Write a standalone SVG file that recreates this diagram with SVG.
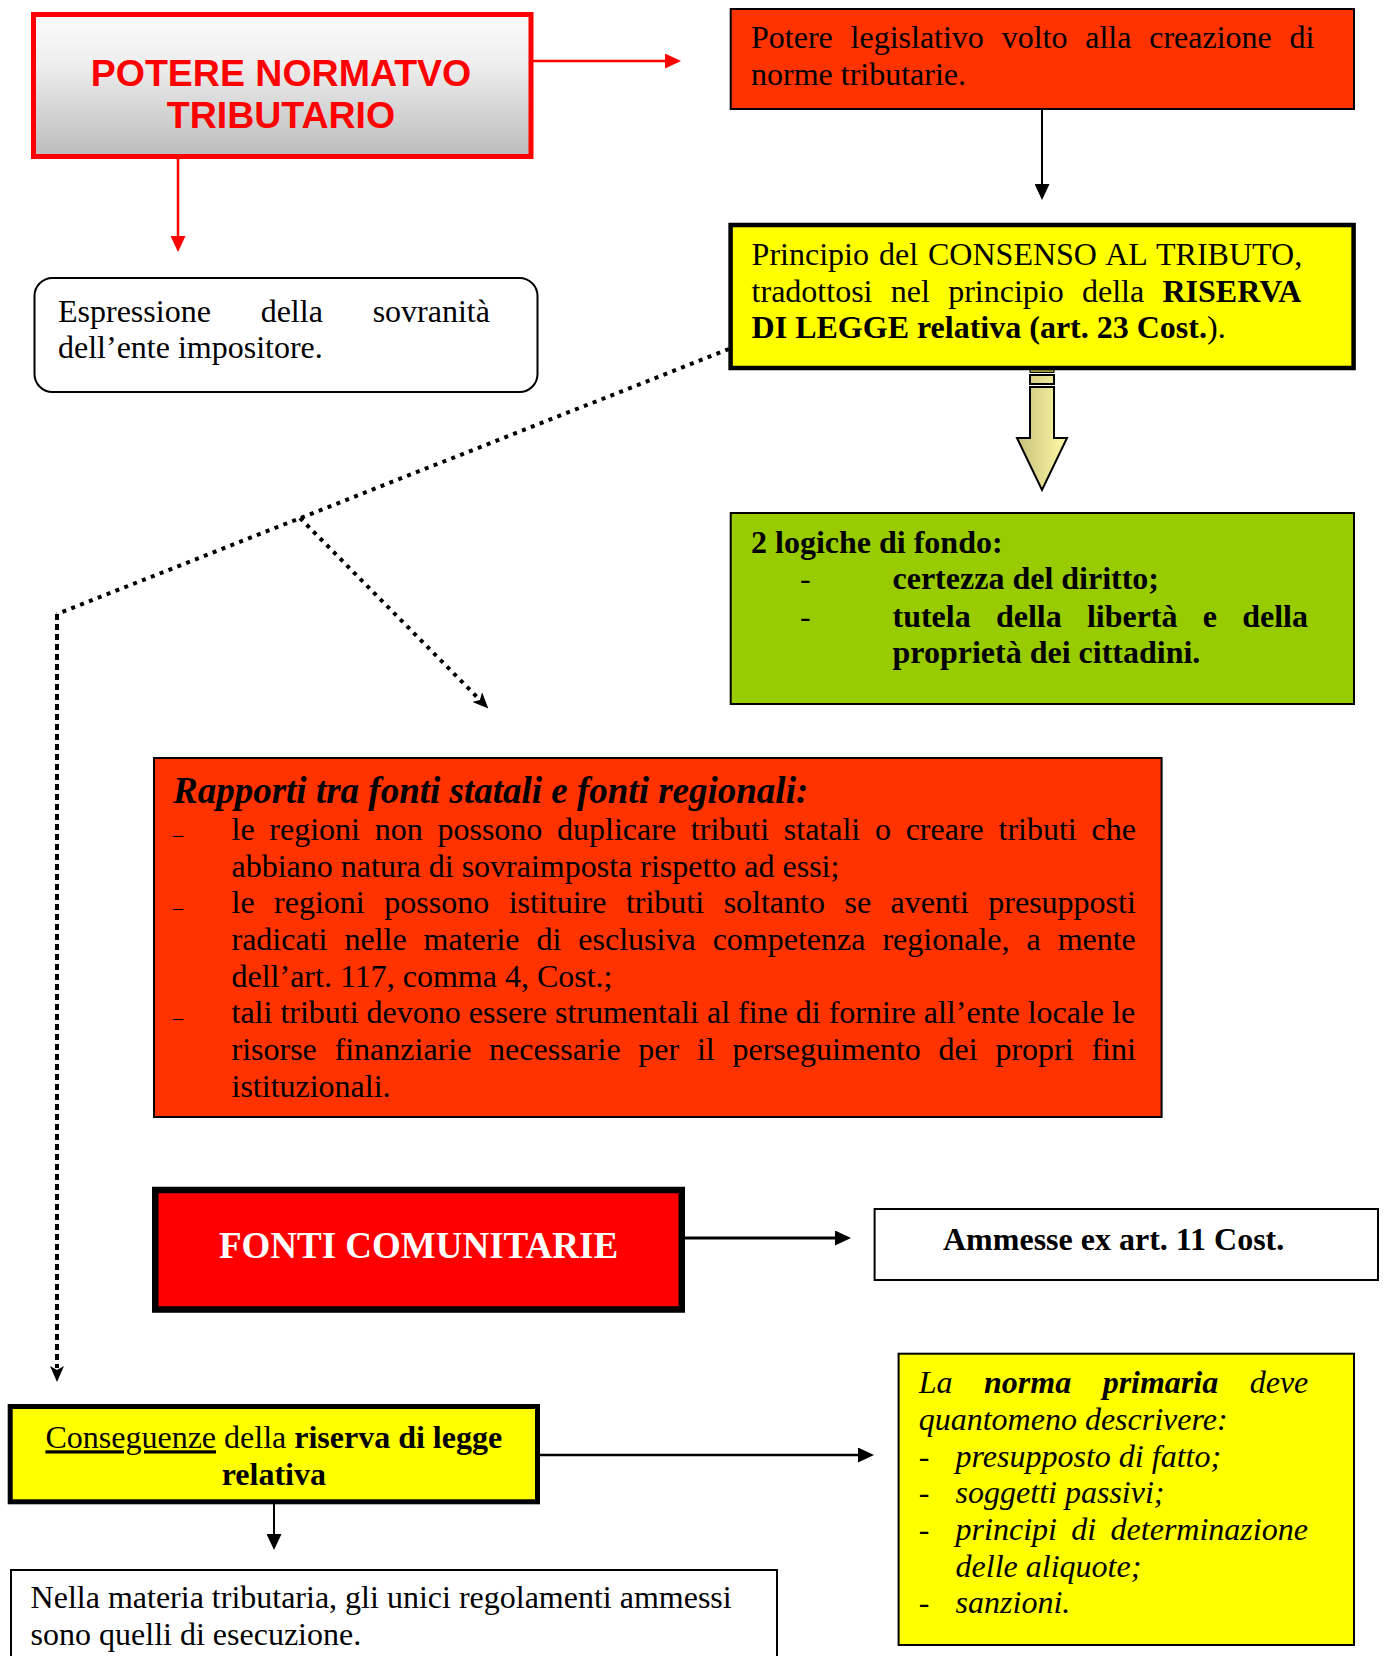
<svg xmlns="http://www.w3.org/2000/svg" width="1386" height="1656" viewBox="0 0 1386 1656">
<style>
.t{font-family:"Liberation Serif","Times New Roman",serif;font-size:32px;fill:#000}
.b{font-weight:bold}
.i{font-style:italic}
.big{font-size:37px}
.bul{font-size:20px}
.thin{stroke:#000;stroke-width:2}
.dot{fill:none;stroke:#000;stroke-width:4;stroke-dasharray:4 5.5}
.dotv{fill:none;stroke:#000;stroke-width:4;stroke-dasharray:6 4}
</style>
<defs>
<linearGradient id="gGray" x1="0" y1="0" x2="0" y2="1">
<stop offset="0" stop-color="#fbfbfb"/><stop offset="0.35" stop-color="#eeeeee"/><stop offset="1" stop-color="#bcbcbc"/>
</linearGradient>
<linearGradient id="gArrow" gradientUnits="userSpaceOnUse" x1="1017" y1="0" x2="1067" y2="0">
<stop offset="0" stop-color="#c6c07a"/><stop offset="1" stop-color="#fffaa6"/>
</linearGradient>
<marker id="mRed" markerUnits="userSpaceOnUse" markerWidth="16" markerHeight="15" refX="0" refY="7.5" orient="auto">
<path d="M0,0 L16,7.5 L0,15 Z" fill="#ff0000"/>
</marker>
<marker id="mBlk" markerUnits="userSpaceOnUse" markerWidth="16" markerHeight="15" refX="0" refY="7.5" orient="auto">
<path d="M0,0 L16,7.5 L0,15 Z" fill="#000"/>
</marker>
<marker id="mStealth" markerUnits="userSpaceOnUse" markerWidth="16" markerHeight="14" refX="2" refY="7" orient="auto">
<path d="M0,0 L16,7 L0,14 L4,7 Z" fill="#000"/>
</marker>
</defs>

<g id="connectors">
<line x1="533" y1="61" x2="665" y2="61" stroke="#ff0000" stroke-width="2.5" marker-end="url(#mRed)"/>
<line x1="178" y1="159" x2="178" y2="236" stroke="#ff0000" stroke-width="2.5" marker-end="url(#mRed)"/>
<line x1="1042" y1="110" x2="1042" y2="184" class="thin" marker-end="url(#mBlk)"/>
<g id="blockArrow">
<rect x="1030" y="369.5" width="24" height="3" fill="#a8a040" stroke="#000" stroke-width="1"/>
<rect x="1030" y="375" width="24" height="9" fill="url(#gArrow)" stroke="#000" stroke-width="2"/>
<path d="M1030,387 L1054,387 L1054,438 L1067,438 L1042,490 L1017,438 L1030,438 Z" fill="url(#gArrow)" stroke="#000" stroke-width="2" stroke-linejoin="miter"/>
</g>
<path class="dot" d="M729,349 L57,614"/>
<path class="dotv" d="M57,614 L57,1368" marker-end="url(#mStealth)"/>
<path class="dot" d="M300,518 L478.5,698.5" marker-end="url(#mStealth)"/>
<line x1="685" y1="1238" x2="835" y2="1238" stroke="#000" stroke-width="3" marker-end="url(#mBlk)"/>
<line x1="540" y1="1455" x2="858" y2="1455" stroke="#000" stroke-width="2.5" marker-end="url(#mBlk)"/>
<line x1="274" y1="1504" x2="274" y2="1534" class="thin" marker-end="url(#mBlk)"/>
</g>

<g id="n-potere">
<rect x="33.5" y="14.5" width="497.5" height="142" fill="url(#gGray)" stroke="#ff0000" stroke-width="5"/>
<text x="281" y="86" text-anchor="middle" font-family="'Liberation Sans',Arial,sans-serif" font-weight="bold" font-size="37.5" fill="#ff0000">POTERE NORMATVO</text>
<text x="281" y="128" text-anchor="middle" font-family="'Liberation Sans',Arial,sans-serif" font-weight="bold" font-size="37.5" fill="#ff0000">TRIBUTARIO</text>
</g>

<g id="n-espressione">
<rect x="34.5" y="278" width="503" height="114" rx="18" ry="18" fill="#fff" stroke="#000" stroke-width="2"/>
<text class="t" x="58" y="322" word-spacing="41.8">Espressione della sovranità</text>
<text class="t" x="58" y="358">dell’ente impositore.</text>
</g>

<g id="n-legislativo">
<rect x="730.7" y="9" width="623.3" height="100" fill="#ff3300" class="thin"/>
<text class="t" x="751" y="48" word-spacing="9.8">Potere legislativo volto alla creazione di</text>
<text class="t" x="751" y="85">norme tributarie.</text>
</g>

<g id="n-principio">
<rect x="730.6" y="225" width="623" height="143" fill="#ffff00" stroke="#000" stroke-width="4.5"/>
<text class="t" x="751.6" y="265" word-spacing="2">Principio del CONSENSO AL TRIBUTO,</text>
<text class="t" x="751.6" y="301.7" word-spacing="10.3">tradottosi nel principio della <tspan class="b">RISERVA</tspan></text>
<text class="t" x="751.6" y="338"><tspan class="b">DI LEGGE relativa (art. 23 Cost.</tspan>).</text>
</g>

<g id="n-logiche">
<rect x="730.7" y="513" width="623.3" height="191" fill="#99cc00" class="thin"/>
<text class="t b" x="751" y="552.7">2 logiche di fondo:</text>
<text class="t" x="800" y="589.3">-</text>
<text class="t b" x="892.5" y="589.3">certezza del diritto;</text>
<text class="t" x="800" y="626.7">-</text>
<text class="t b" x="892.5" y="626.7" word-spacing="17.2">tutela della libertà e della</text>
<text class="t b" x="892.5" y="663.3">proprietà dei cittadini.</text>
</g>

<g id="n-rapporti">
<rect x="154" y="758" width="1007.6" height="359" fill="#ff3300" class="thin"/>
<text class="t b i big" x="173" y="803">Rapporti tra fonti statali e fonti regionali:</text>
<text class="t bul" x="173" y="842">–</text>
<text class="t" x="231.5" y="840" word-spacing="6.73">le regioni non possono duplicare tributi statali o creare tributi che</text>
<text class="t" x="231.5" y="876.7">abbiano natura di sovraimposta rispetto ad essi;</text>
<text class="t bul" x="173" y="915.3">–</text>
<text class="t" x="231.5" y="913.3" word-spacing="11.5">le regioni possono istituire tributi soltanto se aventi presupposti</text>
<text class="t" x="231.5" y="950" word-spacing="8.98">radicati nelle materie di esclusiva competenza regionale, a mente</text>
<text class="t" x="231.5" y="986.7">dell’art. 117, comma 4, Cost.;</text>
<text class="t bul" x="173" y="1025.3">–</text>
<text class="t" x="231.5" y="1023.3">tali tributi devono essere strumentali al fine di fornire all’ente locale le</text>
<text class="t" x="231.5" y="1060" word-spacing="9.75">risorse finanziarie necessarie per il perseguimento dei propri fini</text>
<text class="t" x="231.5" y="1096.7">istituzionali.</text>
</g>

<g id="n-fonti">
<rect x="155.25" y="1190" width="526.5" height="119.5" fill="#ff0000" stroke="#000" stroke-width="6.5"/>
<text class="t b big" x="418.5" y="1258" text-anchor="middle" style="fill:#fff">FONTI COMUNITARIE</text>
</g>

<g id="n-ammesse">
<rect x="874.6" y="1209" width="503.4" height="71" fill="#fff" class="thin"/>
<text class="t b" x="943" y="1250">Ammesse ex art. 11 Cost.</text>
</g>

<g id="n-conseguenze">
<rect x="10.2" y="1406.5" width="527.3" height="95.3" fill="#ffff00" stroke="#000" stroke-width="5"/>
<text class="t" x="273.8" y="1448.3" text-anchor="middle"><tspan text-decoration="underline">Conseguenze</tspan> della <tspan class="b">riserva di legge</tspan></text>
<text class="t b" x="273.8" y="1485" text-anchor="middle">relativa</text>
</g>

<g id="n-norma">
<rect x="898.6" y="1353.7" width="455.4" height="291.3" fill="#ffff00" class="thin"/>
<text class="t i" x="918.7" y="1393.3" word-spacing="23.5">La <tspan class="b">norma primaria</tspan> deve</text>
<text class="t i" x="918.7" y="1430">quantomeno descrivere:</text>
<text class="t i" x="918.7" y="1466.7">-</text>
<text class="t i" x="955.6" y="1466.7">presupposto di fatto;</text>
<text class="t i" x="918.7" y="1503.3">-</text>
<text class="t i" x="955.6" y="1503.3">soggetti passivi;</text>
<text class="t i" x="918.7" y="1540">-</text>
<text class="t i" x="955.6" y="1540" word-spacing="6.4">principi di determinazione</text>
<text class="t i" x="955.6" y="1576.7">delle aliquote;</text>
<text class="t i" x="918.7" y="1613.3">-</text>
<text class="t i" x="955.6" y="1613.3">sanzioni.</text>
</g>

<g id="n-nella">
<rect x="11" y="1570" width="766" height="100" fill="#fff" class="thin"/>
<text class="t" x="30.6" y="1608.3">Nella materia tributaria, gli unici regolamenti ammessi</text>
<text class="t" x="30.6" y="1645">sono quelli di esecuzione.</text>
</g>
</svg>
